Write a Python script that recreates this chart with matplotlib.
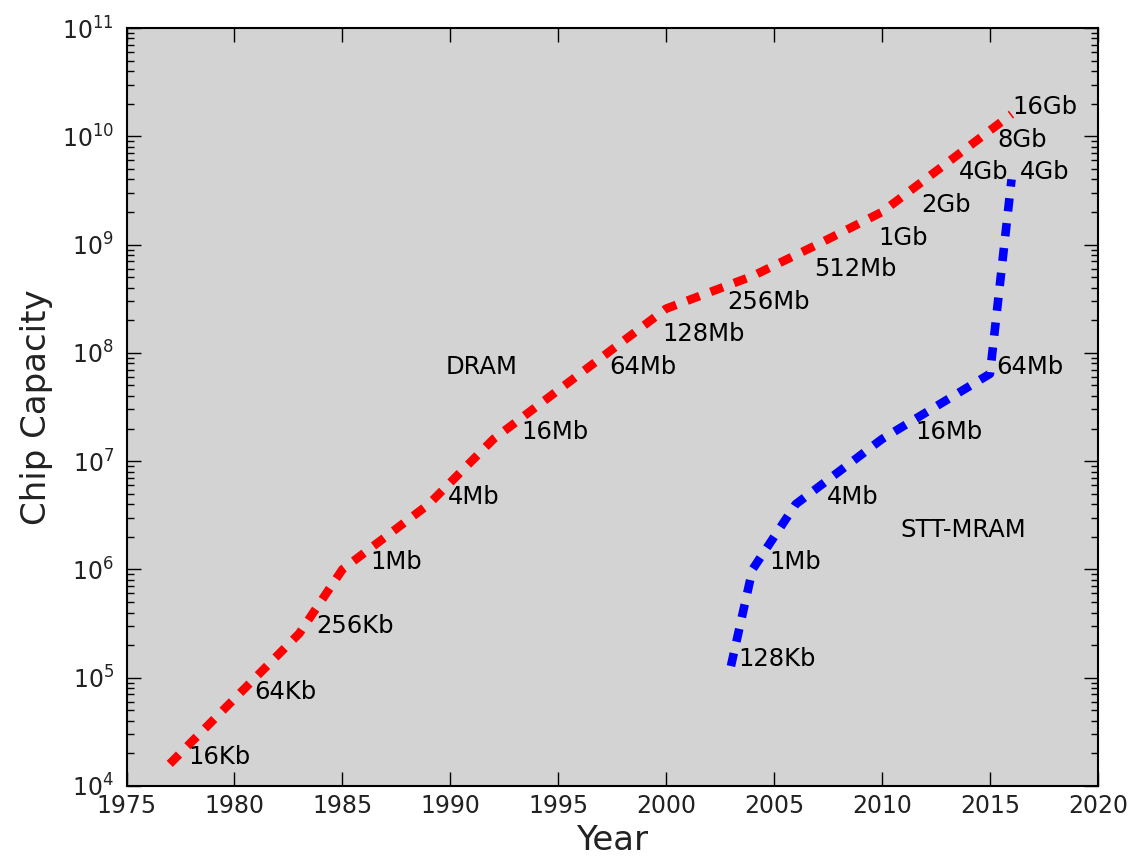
import matplotlib
matplotlib.use('Agg')

import matplotlib.pyplot as plt

'''Chip capacity data: DRAM and STT-MRAM'''
dram_years = [1977, 1980, 1983, 1985, 1989, 1992, 1996, 1998, 2000, 2004, 2007, 2010, 2012, 2014, 2016]
dram_caps = [16e3, 64e3, 256e3, 1e6, 4e6, 16e6, 64e6, 128e6, 256e6, 512e6, 1e9, 2e9, 4e9, 8e9, 16e9]
dram_labels = ['16Kb', '64Kb', '256Kb', '1Mb', '4Mb', '16Mb', '64Mb', '128Mb', '256Mb',
               '512Mb', '1Gb', '2Gb', '4Gb', '8Gb', '16Gb']
# where each label sits (year)
dram_label_years = [1977.85, 1980.9, 1983.8, 1986.3, 1989.9, 1993.3, 1997.35, 1999.8, 2002.85,
                    2006.85, 2009.85, 2011.8, 2013.55, 2015.35, 2016.05]

mram_years = [2003, 2004, 2006, 2010, 2015, 2016]
mram_caps = [128e3, 1e6, 4e6, 16e6, 64e6, 4e9]
mram_labels = ['128Kb', '1Mb', '4Mb', '16Mb', '64Mb', '4Gb']
mram_label_years = [2003.35, 2004.8, 2007.45, 2011.55, 2015.3, 2016.4]

xticks = [1975, 1980, 1985, 1990, 1995, 2000, 2005, 2010, 2015, 2020]

'''Figure'''
plt.rcParams['lines.scale_dashes'] = False
fig = plt.figure(figsize=(11.33, 8.59), dpi=100)
ax = fig.add_axes([0.1117, 0.085, 0.8573, 0.8824])
ax.set_facecolor('lightgray')

ax.plot(dram_years, dram_caps, color='r', lw=6.2, dashes=(9.5, 8.5))
ax.plot(mram_years, mram_caps, color='b', lw=6.2, dashes=(9.5, 8.5))

for yr, cap, lab in zip(dram_label_years, dram_caps, dram_labels):
    ax.text(yr, cap, lab, fontsize=17.5, color='k')
for yr, cap, lab in zip(mram_label_years, mram_caps, mram_labels):
    ax.text(yr, cap, lab, fontsize=17.5, color='k')

ax.text(1989.8, 64e6, 'DRAM', fontsize=17.5, color='k')
ax.text(2010.85, 2e6, 'STT-MRAM', fontsize=17.5, color='k')

ax.set_yscale('log')
ax.set_xlim(1975, 2020)
ax.set_ylim(1e4, 1e11)
ax.set_xticks(xticks)
ax.tick_params(which='both', direction='in', top=True, right=True, labelsize=17, labelcolor='#222222')
ax.tick_params(which='major', length=10, width=1)
ax.tick_params(which='minor', length=5, width=1)
ax.tick_params(axis='x', pad=6)
ax.tick_params(axis='y', pad=9)
for s in ax.spines.values():
    s.set_linewidth(1.5)

ax.set_xlabel('Year', fontsize=24.5, color='#222222', labelpad=4)
ax.set_ylabel('Chip Capacity', fontsize=24.5, color='#222222', labelpad=6)

plt.savefig('out.png', dpi=100)
plt.close()
